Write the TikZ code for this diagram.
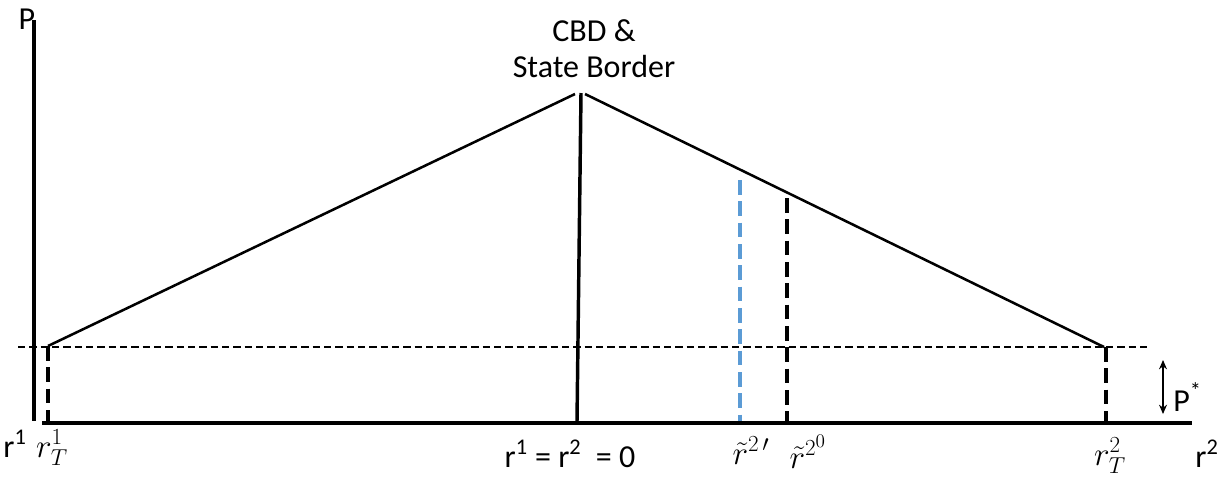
\documentclass[tikz,border=0pt]{standalone}
\usepackage{fontspec}
\setmainfont{Carlito}
\usetikzlibrary{arrows.meta}
\definecolor{officeblue}{RGB}{91,155,213}
\begin{document}
\begin{tikzpicture}[x=0.75pt,y=-0.75pt,
  lbl/.style={inner sep=0pt,anchor=base,font=\fontsize{24}{29}\selectfont},
  mlbl/.style={inner sep=0pt,anchor=base,font=\fontsize{27}{32}\selectfont},
  axis/.style={line width=3pt},
  slope/.style={line width=1.9pt},
  thindash/.style={line width=1.1pt,dash pattern=on 5.5pt off 3pt},
  thickdash/.style={line width=2.4pt,dash pattern=on 11pt off 5pt}]
\useasboundingbox (0,0) rectangle (1227,476);
% coordinates
\coordinate (ytop) at (34,20);
\coordinate (ybot) at (34,421);
\coordinate (xl) at (42,423);
\coordinate (xr) at (1192,423);
\coordinate (L) at (48,346);
\coordinate (PkL) at (575,94);
\coordinate (PkR) at (585,94);
\coordinate (PkC) at (581,93);
\coordinate (C0) at (577,421);
\coordinate (R) at (1104,347);
\coordinate (hl) at (18,347);
\coordinate (hr) at (1148,347);
\coordinate (Lb) at (48,421);
\coordinate (Rt) at (1106,347);
\coordinate (Rb) at (1106,421);
\coordinate (Bt) at (740,180);
\coordinate (Bb) at (740,421);
\coordinate (Kt) at (787,198);
\coordinate (Kb) at (787,421);
\coordinate (At) at (1163,360);
\coordinate (Ab) at (1163,414);
% axes
\draw[axis] (ytop) -- (ybot);
\draw[axis] (xl) -- (xr);
% roof
\draw[slope] (L) -- (PkL);
\draw[slope] (PkR) -- (R);
\draw[line width=2.6pt] (PkC) -- (C0);
% dashed
\draw[thindash] (hl) -- (hr);
\draw[thickdash] (L) -- (Lb);
\draw[thickdash] (Rt) -- (Rb);
\draw[thickdash,officeblue] (Bt) -- (Bb);
\draw[thickdash] (Kt) -- (Kb);
\draw[line width=0.8pt,{Stealth[length=7pt,width=6pt]}-{Stealth[length=7pt,width=6pt]}] (At) -- (Ab);
% labels
\node[lbl] (P) at (27,29) {P};
\node[lbl] (cbd) at (594,41) {CBD \&};
\node[lbl] (sb) at (594,77) {State Border};
\node[lbl] (r1) at (15,457) {r\textsuperscript{1}};
\node[mlbl] (rT1) at (52,457) {$r_T^1$};
\node[lbl] (r0) at (570,467) {r\textsuperscript{1} = r\textsuperscript{2} \ = 0};
\node[mlbl] (rtp) at (751,464) {$\tilde{r}^{2\,\prime}$};
\node[mlbl] (rt0) at (808,468) {$\tilde{r}^{2^0}$};
\node[mlbl] (rT2) at (1110,465) {$r_T^2$};
\node[lbl] (r2) at (1207,467) {r\textsuperscript{2}};
\node[lbl,anchor=base west] (Ps) at (1173,411) {P\textsuperscript{*}};
\end{tikzpicture}
\end{document}
